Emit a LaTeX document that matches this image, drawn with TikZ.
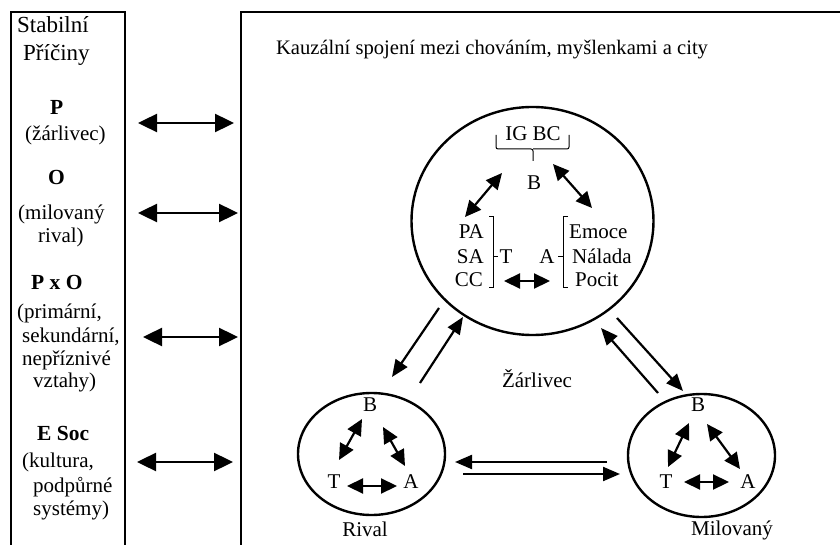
\documentclass[tikz,border=0pt]{standalone}
\usepackage{fontspec}
\setmainfont{Liberation Serif}
\usetikzlibrary{arrows.meta,shapes.geometric}
\begin{document}
\begin{tikzpicture}[x=1pt,y=-1pt,
  txt/.style={inner sep=0pt, font=\fontsize{21}{25}\selectfont},
  btxt/.style={inner sep=0pt, font=\fontsize{21.5}{25}\selectfont\bfseries},
  bigtxt/.style={inner sep=0pt, font=\fontsize{23}{27}\selectfont},
  ttl/.style={inner sep=0pt, font=\fontsize{20.6}{24}\selectfont},
  frame/.style={line width=2pt},
  oval/.style={ellipse, draw, line width=2.4pt, inner sep=0pt},
  dbl/.style={{Triangle[length=19pt,width=18pt]}-{Triangle[length=19pt,width=18pt]}, line width=2.4pt},
  inarr/.style={{Triangle[length=16pt,width=15pt]}-{Triangle[length=16pt,width=15pt]}, line width=2.2pt},
  onearr/.style={-{Triangle[length=17pt,width=14pt]}, line width=2.2pt},
  brk/.style={line width=1pt}]
\useasboundingbox (0,0) rectangle (840,545);
\clip (0,0) rectangle (840,545);
% frames
\draw[frame] (11,12) rectangle (125,570);
\draw[frame] (241,12) rectangle (870,570);
% left column
\node[bigtxt, anchor=base west] (stab) at (17,33) {Stabilní};
\node[bigtxt, anchor=base west] (pric) at (23,61) {Příčiny};
\node[btxt, anchor=base west] (lP) at (50,115) {P};
\node[txt, anchor=base west] (lzar) at (25,141) {(žárlivec)};
\node[btxt, anchor=base west] (lO) at (48,185) {O};
\node[txt, anchor=base west] (lmil) at (18,220) {(milovaný};
\node[txt, anchor=base west] (lriv) at (38,243) {rival)};
\node[btxt, anchor=base west] (lPO) at (31,289) {P x O};
\node[txt, anchor=base west] (lpri) at (17,318) {(primární,};
\node[txt, anchor=base west] (lsek) at (22,342) {sekundární,};
\node[txt, anchor=base west] (lnep) at (22,365) {nepříznivé};
\node[txt, anchor=base west] (lvzt) at (33,387) {vztahy)};
\node[btxt, anchor=base west] (lE) at (37,440) {E Soc};
\node[txt, anchor=base west] (lkul) at (22,467) {(kultura,};
\node[txt, anchor=base west] (lpod) at (33,492) {podpůrné};
\node[txt, anchor=base west] (lsys) at (33,515) {systémy)};
% left arrows
\coordinate (a1l) at (138,123); \coordinate (a1r) at (234,123);
\coordinate (a2l) at (138,213); \coordinate (a2r) at (238,213);
\coordinate (a3l) at (143,337); \coordinate (a3r) at (238,337);
\coordinate (a4l) at (137,462); \coordinate (a4r) at (233,462);
\draw[dbl] (a1l) -- (a1r);
\draw[dbl] (a2l) -- (a2r);
\draw[dbl] (a3l) -- (a3r);
\draw[dbl] (a4l) -- (a4r);
% title
\node[ttl, anchor=base] (title) at (492,55) {Kauzální spojení mezi chováním, myšlenkami a city};
% big circle
\node[oval, minimum width=242pt, minimum height=228pt] (zar) at (532.5,221) {};
\node[txt, anchor=base] (igbc) at (533,141) {IG BC};
\draw[brk, rounded corners=2pt] (496,135) |- (533,149) -- (533,161);
\draw[brk, rounded corners=2pt] (569,135) |- (533,149);
\node[txt, anchor=base] (zB) at (534,190) {B};
\node[txt, anchor=base east] (zPA) at (484,239) {PA};
\node[txt, anchor=base east] (zSA) at (484,264) {SA};
\node[txt, anchor=base east] (zCC) at (483,287) {CC};
\draw[brk] (489,217) -- (493,217) -- (493,287) -- (489,287);
\draw[brk] (493,257) -- (498,257);
\node[txt, anchor=base] (zT) at (506,264) {T};
\node[txt, anchor=base] (zA) at (547,264) {A};
\draw[brk] (568,217) -- (563,217) -- (563,287) -- (568,287);
\draw[brk] (563,257) -- (558,257);
\node[txt, anchor=base west] (zEm) at (569,239) {Emoce};
\node[txt, anchor=base west] (zNa) at (572,264) {Nálada};
\node[txt, anchor=base west] (zPo) at (575,287) {Pocit};
\coordinate (zbt1) at (502,173); \coordinate (zbt2) at (465,217);
\coordinate (zba1) at (553,164); \coordinate (zba2) at (592,208);
\coordinate (zta1) at (504,281); \coordinate (zta2) at (550,281);
\draw[inarr] (zbt1) -- (zbt2);
\draw[inarr] (zba1) -- (zba2);
\draw[inarr] (zta1) -- (zta2);
\node[txt, anchor=base] (zlab) at (537,387) {Žárlivec};
% rival
\node[oval, minimum width=147pt, minimum height=122pt] (riv) at (371.5,454) {};
\node[txt, anchor=base] (rB) at (370,411) {B};
\node[txt, anchor=base] (rT) at (334,488) {T};
\node[txt, anchor=base] (rA) at (411,488) {A};
\coordinate (rbt1) at (362,419); \coordinate (rbt2) at (339,460);
\coordinate (rba1) at (383,427); \coordinate (rba2) at (405,466);
\coordinate (rta1) at (347,486); \coordinate (rta2) at (397,486);
\draw[inarr] (rbt1) -- (rbt2);
\draw[inarr] (rba1) -- (rba2);
\draw[inarr] (rta1) -- (rta2);
\node[txt, anchor=base] (rlab) at (365,536) {Rival};
% milovany
\node[oval, minimum width=147pt, minimum height=123pt] (mil) at (701.5,455.5) {};
\node[txt, anchor=base] (mB) at (698,411) {B};
\node[txt, anchor=base] (mT) at (666,488) {T};
\node[txt, anchor=base] (mA) at (748,488) {A};
\coordinate (mbt1) at (689,423); \coordinate (mbt2) at (668,467);
\coordinate (mba1) at (707,424); \coordinate (mba2) at (740,469);
\coordinate (mta1) at (684,482); \coordinate (mta2) at (729,482);
\draw[inarr] (mbt1) -- (mbt2);
\draw[inarr] (mba1) -- (mba2);
\draw[inarr] (mta1) -- (mta2);
\node[txt, anchor=base] (mlab) at (732,535) {Milovaný};
% connections between circles
\coordinate (zr1) at (439,308); \coordinate (zr2) at (392,377);
\coordinate (rz1) at (420,383); \coordinate (rz2) at (463,317);
\coordinate (mr1) at (607,462); \coordinate (mr2) at (455,462);
\coordinate (rm1) at (463,474); \coordinate (rm2) at (620,474);
\coordinate (zm1) at (617,318); \coordinate (zm2) at (683,391);
\coordinate (mz1) at (658,393); \coordinate (mz2) at (601,328);
\draw[onearr] (zr1) -- (zr2);
\draw[onearr] (rz1) -- (rz2);
\draw[onearr] (mr1) -- (mr2);
\draw[onearr] (rm1) -- (rm2);
\draw[onearr] (zm1) -- (zm2);
\draw[onearr] (mz1) -- (mz2);
\end{tikzpicture}
\end{document}
